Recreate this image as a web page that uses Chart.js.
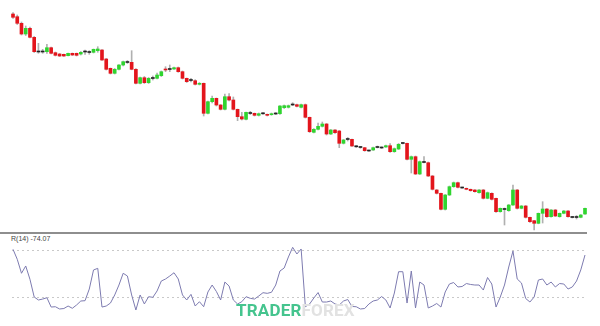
<!DOCTYPE html>
<html>
<head>
<meta charset="utf-8">
<script src="https://cdn.jsdelivr.net/npm/chart.js@4"></script>
<style>
  html, body { margin: 0; padding: 0; background: #fff; }
  #wrap { position: relative; width: 600px; height: 326px; overflow: hidden; }
  #priceChart { position: absolute; left: 0; top: 0; }
  #wprChart { position: absolute; left: 12px; top: 236px; }
  #divider { position: absolute; left: 0; top: 232px; width: 587px; height: 2px; background: #8e8e8e; }
  #wprLabel { position: absolute; left: 11px; top: 235px; font: 7px "Liberation Sans", Arial, sans-serif; color: #444; line-height: 8px; }
  #mark { position: absolute; left: 236px; top: 300px; font: 700 17px Roboto, sans-serif; letter-spacing: 0.2px; }
  #mark .a { color: #45c48e; }
  #mark .b { color: #e2e2e2; }
</style>
</head>
<body>
<div id="wrap">
  <canvas id="priceChart" width="600" height="232"></canvas>
  <div id="divider"></div>
  <div id="wprLabel">R(14) -74.07</div>
  <canvas id="wprChart" width="575" height="90"></canvas>
  <div id="mark"><span class="a">TRADER</span><span class="b">FOREX</span></div>
</div>
<script>
// candle data (one entry per bar)
const opens = [226, 223.3, 216.7, 206, 211.7, 202.7, 188.5, 188.5, 188.3, 192.3,
  187.3, 186, 185.7, 184.3, 186.7, 186.7, 186, 188.5, 188, 187.7,
  189.3, 190, 181, 171.7, 166.7, 170.7, 175, 178, 177.7, 170.7,
  156.7, 162.3, 157.3, 162, 161.7, 164.3, 171, 171, 171, 172.3,
  168.3, 161.7, 160, 159.3, 155.7, 156.7, 126.7, 138.3, 141.7, 135,
  130.7, 143.3, 140, 130.7, 123.3, 120.7, 127, 126.7, 124.7, 126.7,
  125.7, 125.3, 126.5, 126.3, 132.3, 132.7, 135.5, 135.3, 132.7, 135.3,
  122.7, 107.7, 110.7, 113.7, 116, 106, 110, 109, 96.7, 101,
  100.7, 93.7, 93, 92.3, 89.5, 90, 93, 92.5, 93, 94.3,
  88.3, 91, 97, 96.7, 80.7, 83.3, 66, 78, 77.3, 64,
  50, 46.7, 30.7, 45, 53.3, 57.3, 52.5, 51.7, 50.7, 50,
  47.3, 50, 41.7, 46.7, 41.7, 28.3, 31, 29.3, 35, 50,
  31.7, 34, 22.7, 19.3, 16.7, 26.7, 31, 23.3, 30, 23.3,
  26.7, 29, 23, 23, 22.7, 26];

const closes = [222.7, 216.7, 206, 211.7, 202.7, 188.3, 188, 188, 192.3, 186.7,
  184.7, 184, 184, 186.7, 185, 184.7, 187.7, 188, 187.5, 190.7,
  191, 180, 170.7, 166.7, 170.7, 175, 178.3, 177.5, 170.7, 156.7,
  162.3, 157.3, 161.7, 161.5, 165, 168.3, 170, 170.5, 172.3, 168.3,
  161.7, 158.3, 159.5, 155.7, 156.7, 126.7, 138.3, 141.7, 135, 130.7,
  143.3, 140, 130.7, 123.3, 121, 127.7, 126.5, 124.7, 126.3, 126.2,
  124.7, 126.3, 126, 134, 134.3, 134.3, 135, 133.7, 135.3, 122.7,
  108.3, 110.7, 113.7, 116, 106, 110, 107.3, 96.7, 100, 100.5,
  94, 93.2, 92.5, 89.3, 89, 92.3, 92.5, 92, 94.3, 88.3,
  91.3, 95.7, 96.5, 80.7, 83.3, 66, 78.3, 77.5, 64, 50.7,
  46.7, 30.7, 45, 53.3, 57.3, 52.7, 52, 50.7, 49.3, 48.3,
  50, 41.7, 47.3, 40.7, 28.3, 31.7, 30.5, 35, 50, 31.7,
  34, 22.7, 18.3, 16.7, 26.7, 31, 23.3, 30, 24, 26.7,
  29, 23.3, 22.5, 22.5, 25, 31.7];

const highs = [227.5, 225, 218, 214, 213, 203.5, 196.7, 190.7, 195.7, 193,
  188, 186.5, 186, 187, 187, 187, 188.5, 190, 189.3, 191,
  193.3, 190.5, 181.5, 172, 171.5, 175.5, 179, 179.5, 189.3, 171.5,
  163, 163.5, 162.5, 164, 167, 169, 173.3, 175, 173, 173,
  169, 162, 161.7, 160.3, 157.5, 157, 139, 144, 142, 135.5,
  146, 146.3, 143, 131, 127.7, 128, 128.7, 127, 127, 127.5,
  126, 127, 127.5, 134.5, 135, 135, 137.3, 136, 136, 136,
  123, 111.5, 117, 118, 116.5, 110.5, 110.5, 109.5, 100.5, 102.5,
  101, 94.5, 93.5, 92.7, 90, 93, 94, 93.2, 95, 96.5,
  92, 96.5, 97.5, 97, 84, 84, 79, 83.3, 78, 64.5,
  50.5, 47, 45.5, 54, 58, 58, 53, 52, 51, 50.5,
  50.5, 50.5, 48, 47.2, 42, 32, 32, 35.5, 55, 50.5,
  34.5, 34.5, 23, 19.7, 27, 38.3, 31.5, 30.5, 30.5, 27,
  29.5, 29.5, 23.5, 24.5, 25.5, 32];

const lows = [221.5, 215.5, 205, 204.5, 202, 187.5, 186.7, 186.7, 186.7, 186,
  184, 183.5, 183.5, 184, 184.5, 184, 185, 185.7, 185.7, 187,
  187.7, 179.5, 170, 166, 166, 170, 174, 176.5, 170.2, 156,
  156, 156.5, 156.5, 160, 161, 163.5, 168.3, 168.3, 170.5, 167.7,
  161, 157.5, 158, 155, 155, 124, 126, 137, 134, 130,
  130, 139, 130, 119.3, 120, 120, 125.5, 124, 124, 125.5,
  124, 124.7, 125.3, 125.5, 131.5, 132, 134.3, 133, 132, 122,
  107.5, 107, 110, 113, 105, 105.5, 106.5, 92.3, 96, 99,
  93.5, 92.5, 91.7, 88.7, 88.5, 89.5, 92, 91.5, 92.5, 87.5,
  87.7, 90.5, 96, 80, 67, 65.5, 65.5, 77, 63.5, 50,
  46, 30, 30, 44.5, 52.7, 52.2, 51.5, 50.2, 48.8, 47.8,
  46.8, 41, 41.2, 40, 27.7, 27.8, 15, 28.7, 34.5, 31,
  31.2, 22, 17.7, 10, 16.2, 17, 22.7, 22.8, 23.5, 22.8,
  26.2, 22.8, 22, 21, 22.2, 25.5];

// Williams %R (14) for the lower pane
const wpr = [-19.1, -31.9, -49.7, -40.4, -57.4, -80.0, -83.8, -82.6, -80.9, -92.8,
  -92.4, -95.3, -94.7, -91.5, -94.4, -90.2, -85.1, -84.7, -69.8, -45.5,
  -43.4, -92.8, -91.5, -87.7, -77.4, -64.7, -49.7, -53.2, -77.4, -96.6,
  -77.4, -88.9, -79.6, -80.4, -72.3, -59.6, -57.0, -53.2, -49.0, -57.0,
  -77.4, -83.8, -76.6, -91.5, -86.0, -92.4, -73.6, -64.7, -73.0, -83.8,
  -60.9, -66.0, -83.8, -88.9, -86.0, -79.6, -81.7, -82.6, -78.7, -74.5,
  -75.3, -74.0, -64.7, -46.8, -43.0, -28.9, -16.6, -25.1, -18.7, -92.4,
  -88.9, -81.3, -74.3, -86.4, -86.4, -85.1, -88.9, -90.2, -85.1, -83.2,
  -92.1, -92.4, -95.3, -94.7, -88.9, -85.1, -83.8, -79.4, -83.8, -94.0,
  -74.9, -47.7, -47.7, -87.7, -46.8, -94.0, -60.9, -64.7, -94.0, -91.5,
  -88.3, -92.8, -73.6, -63.4, -61.5, -67.2, -66.6, -62.8, -64.0, -64.7,
  -64.7, -71.1, -55.1, -63.4, -92.8, -80.0, -64.7, -41.7, -21.3, -57.0,
  -62.1, -81.9, -86.4, -80.0, -58.3, -57.0, -64.7, -60.9, -67.2, -62.8,
  -63.4, -69.8, -67.2, -59.6, -45.5, -26.4];

const wprLevels = [-20, -80];

const UP = '#2fd52f';
const DOWN = '#e3151c';
const DOJI = '#222222';
const WICK = '#b0b0b0';

// Build candle datasets
const bodyData = opens.map((o, i) => ({ x: i, y: [o, closes[i]] }));
const wickData = opens.map((o, i) => ({ x: i, y: [lows[i], highs[i]] }));
const bodyColors = opens.map((o, i) => {
    const d = closes[i] - o;
    if (Math.abs(d) < 0.6) return DOJI;
    return d > 0 ? UP : DOWN;
});

const xRange = { min: -3.07, max: 138.54 };

new Chart(document.getElementById('priceChart'), {
    type: 'bar',
    data: {
        datasets: [
            {
                data: bodyData,
                backgroundColor: bodyColors,
                borderWidth: 0,
                barThickness: 3,
                minBarLength: 1,
                grouped: false,
                order: 0
            },
            {
                data: wickData,
                backgroundColor: WICK,
                borderWidth: 0,
                barThickness: 1,
                grouped: false,
                order: 1
            }
        ]
    },
    options: {
        responsive: false,
        animation: false,
        devicePixelRatio: 1,
        layout: { padding: 0 },
        plugins: { legend: { display: false }, tooltip: { enabled: false } },
        scales: {
            x: { type: 'linear', offset: false, min: xRange.min, max: xRange.max, display: false },
            y: { min: 8, max: 240, display: false }
        }
    }
});

// Lower pane: %R line with dotted -20 / -80 levels
new Chart(document.getElementById('wprChart'), {
    type: 'line',
    data: {
        datasets: [{
            data: wpr.map((v, i) => ({ x: i, y: v })),
            borderColor: '#7d7bb0',
            borderWidth: 1,
            pointRadius: 0,
            tension: 0
        }]
    },
    options: {
        responsive: false,
        animation: false,
        devicePixelRatio: 1,
        layout: { padding: 0 },
        plugins: { legend: { display: false }, tooltip: { enabled: false } },
        scales: {
            x: { type: 'linear', min: -0.24, max: 135.47, display: false },
            y: {
                min: -117,
                max: -2.13,
                afterBuildTicks: (axis) => { axis.ticks = wprLevels.map(v => ({ value: v })); },
                ticks: { display: false },
                grid: { color: '#c9c9c9', lineWidth: 1, drawTicks: false },
                border: { display: false, dash: [2, 3] }
            }
        }
    }
});
</script>
</body>
</html>
